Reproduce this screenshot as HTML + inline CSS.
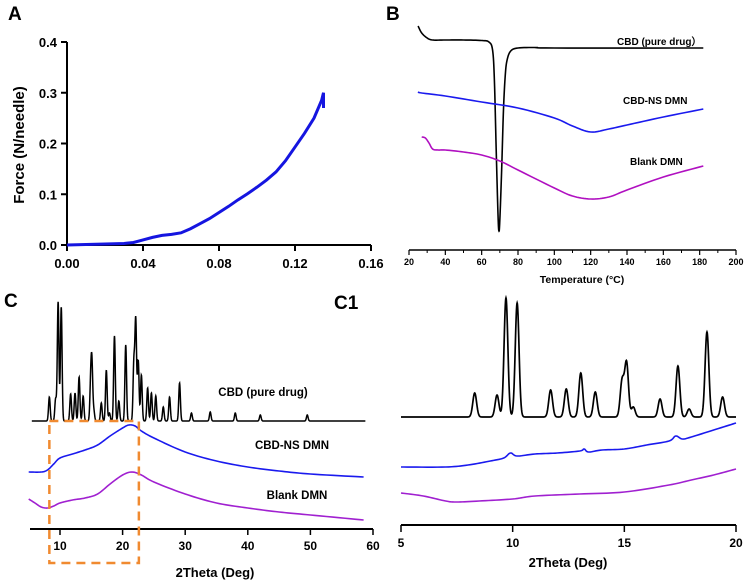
<!DOCTYPE html>
<html><head><meta charset="utf-8"><style>
body{margin:0;background:#fff}
svg{display:block;font-family:"Liberation Sans",Arial,sans-serif;font-weight:bold}
</style></head><body>
<svg id="fig" width="749" height="580" viewBox="0 0 749 580" xmlns="http://www.w3.org/2000/svg">
<text x="8" y="20" font-size="19">A</text>
<text x="386" y="20" font-size="19">B</text>
<text x="4" y="307" font-size="19">C</text>
<text x="334" y="309" font-size="19">C1</text>
<g id="gA"></g>
<g id="gB"></g>
<g id="gC"></g>
<g id="gC1"></g>
</svg>
<script>
// Panel A data
const dispA=[0,0.01,0.02,0.03,0.035,0.04,0.045,0.05,0.055,0.06,0.065,0.07,0.075,0.08,0.085,0.09,0.095,0.1,0.105,0.11,0.115,0.12,0.125,0.13,0.134,0.135,0.135];
const forceA=[0,0.001,0.002,0.003,0.005,0.01,0.015,0.019,0.021,0.024,0.032,0.042,0.052,0.064,0.076,0.089,0.101,0.114,0.128,0.144,0.166,0.193,0.22,0.25,0.285,0.30,0.27];
const xTicksA=["0.00","0.04","0.08","0.12","0.16"];
const yTicksA=["0.0","0.1","0.2","0.3","0.4"];
// Panel B data (temperature, heat flow a.u.)
const tBlack=[25,27,30,33,40,50,60,64,66,67,68,69,69.5,70,71,72,73,74,76,80,90,100,182];
const hBlack=[22.4,21.7,21.2,21,21,21,20.95,20.8,20,17,10,3.5,1.9,3,8,14,17.5,19,19.9,20.2,20.25,20.2,20.2];
const tBlue=[25,27,40,60,80,100,110,120,130,140,160,182];
const hBlue=[15.8,15.7,15.4,14.8,14.2,13.2,12.4,11.8,12.1,12.5,13.3,14.1];
const tMag=[27,29,31,33,36,40,50,60,70,80,100,110,120,130,140,160,182];
const hMag=[11.3,11.2,10.7,10.1,10,10,9.8,9.5,8.9,8,6.2,5.4,5.1,5.3,6,7.3,8.4];
const xTicksB=[20,40,60,80,100,120,140,160,180,200];
// XRD peaks (2theta, height)
const peakPos=[8.3,9.3,9.7,10.2,11.7,12.4,13.05,13.7,14.9,15.1,15.4,16.6,17.4,17.9,18.7,19.4,20.5,21.8,22.1,22.5,23,24,24.6,25.3,26.5,27.5,29.1,31,34,38,42,49.5];
const peakH=[24,22,119,114,27,28,44,25,36,54,10,18,51,8,85,20,76,58,100,60,46,33,28,25,14,24,38,8,9,8,6,6];
const baseBlack=108;
// amorphous curves (2theta, intensity)
const thBlueC=[5,7,8,9,10,12,14,16,18,20,21,22,23,25,30,35,40,45,50,58.5];
const iBlueC=[57,57,59,65,71,75,79,84,93,101,104,103,98,91,77,68,62,58,55,52];
const thMagC=[5,6,7,8,9,10,12,14,16,18,20,21.5,23,25,30,35,40,45,50,58.5];
const iMagC=[30,26,22,21,23,26,29,31,35,45,54,57,54,47,35,26,21,17,14,9];
const thBlueC1=[5,7,8,9,9.6,9.9,10.2,11,12,13,13.2,13.4,14,15,16,17,17.3,17.6,18,19,20];
const iBlueC1=[58,58,60,64,67,72,69,71,72,74,76,73,75,76,80,84,89,86,88,95,102];
const thMagC1=[5,6,7,7.5,8.5,10,11,13,15,17,18,19,20];
const iMagC1=[32,29,24,23,24,26,29,31,33,40,45,50,56];
const xTicksC=[10,20,30,40,50,60];
const xTicksC1=[5,10,15,20];

const NS="http://www.w3.org/2000/svg";
function mk(parent,tag,attrs){const e=document.createElementNS(NS,tag);for(const k in attrs)e.setAttribute(k,attrs[k]);parent.appendChild(e);return e;}
function lin(d0,d1,r0,r1){return v=>r0+(v-d0)/(d1-d0)*(r1-r0);}
function pathFrom(xs,ys,sx,sy){return xs.map((x,i)=>(i?'L':'M')+sx(x).toFixed(2)+' '+sy(ys[i]).toFixed(2)).join(' ');}
function smooth(xs,ys,n){const ox=[],oy=[];for(let i=0;i<xs.length-1;i++){const p0=i?i-1:i,p3=i+2<xs.length?i+2:i+1;for(let k=0;k<n;k++){const t=k/n,t2=t*t,t3=t2*t;const f=(a,b,c,d)=>0.5*(2*b+(-a+c)*t+(2*a-5*b+4*c-d)*t2+(-a+3*b-3*c+d)*t3);ox.push(f(xs[p0],xs[i],xs[i+1],xs[p3]));oy.push(f(ys[p0],ys[i],ys[i+1],ys[p3]));}}ox.push(xs[xs.length-1]);oy.push(ys[ys.length-1]);return [ox,oy];}

// Panel A
(function(){const g=document.getElementById('gA');
const sx=lin(0,0.16,67,371),sy=lin(0,0.4,245,42);
mk(g,'line',{x1:67,y1:42,x2:67,y2:245,stroke:'#000','stroke-width':2});
mk(g,'line',{x1:67,y1:245,x2:371,y2:245,stroke:'#000','stroke-width':2});
xTicksA.forEach(t=>{const x=sx(+t);const l=mk(g,'line',{x1:x,y1:245,x2:x,y2:251,stroke:'#000','stroke-width':2});
const tx=mk(g,'text',{x:x,y:268,'font-size':13,'text-anchor':'middle'});tx.textContent=t;});
yTicksA.forEach(t=>{const y=sy(+t);const l=mk(g,'line',{x1:61,y1:y,x2:67,y2:y,stroke:'#000','stroke-width':2});
const tx=mk(g,'text',{x:57,y:y+5,'font-size':13,'text-anchor':'end'});tx.textContent=t;});
const yt=mk(g,'text',{x:0,y:0,'font-size':15,'text-anchor':'middle',transform:'translate(24,145) rotate(-90)'});yt.textContent='Force (N/needle)';
const p=mk(g,'path',{d:pathFrom(dispA,forceA,sx,sy),fill:'none',stroke:'#1515e0','stroke-width':3});
})();

// Panel B
(function(){const g=document.getElementById('gB');
const sx=lin(20,200,409,736),sy=v=>250-v*10;
mk(g,'line',{x1:409,y1:250,x2:736,y2:250,stroke:'#000','stroke-width':1.5});
xTicksB.forEach(t=>{const x=sx(t);const l=mk(g,'line',{x1:x,y1:250,x2:x,y2:255,stroke:'#000','stroke-width':1.2});
const tx=mk(g,'text',{x:x,y:265,'font-size':9,'text-anchor':'middle'});tx.textContent=t;});
for(let t=30;t<200;t+=20){const m=mk(g,'line',{x1:sx(t),y1:250,x2:sx(t),y2:253,stroke:'#000','stroke-width':1});}
const xt=mk(g,'text',{x:582,y:283,'font-size':10.5,'text-anchor':'middle'});xt.textContent='Temperature (°C)';
const series=[[tBlack,hBlack,'#000','dsc-cbd-pure'],[tBlue,hBlue,'#1a1aee','dsc-cbd-ns-dmn'],[tMag,hMag,'#b010c0','dsc-blank-dmn']];
series.forEach(s=>{const [xs,ys]=smooth(s[0],s[1],8);const p=mk(g,'path',{d:pathFrom(xs,ys,sx,sy),fill:'none',stroke:s[2],'stroke-width':1.6});});
const labs=[['CBD (pure drug）',617,45,'label-cbd-pure'],['CBD-NS DMN',623,104,'label-cbd-ns-dmn'],['Blank DMN',630,165,'label-blank-dmn']];
labs.forEach(l=>{const t=mk(g,'text',{x:l[1],y:l[2],'font-size':10});t.textContent=l[0];});
})();

function blackCurve(x0,x1,step,sig){const xs=[],ys=[];for(let x=x0;x<=x1+1e-9;x+=step){let v=baseBlack;for(let i=0;i<peakPos.length;i++){const d=(x-peakPos[i])/sig;v+=peakH[i]*Math.exp(-0.5*d*d);}xs.push(x);ys.push(v);}return [xs,ys];}

// Panel C
(function(){const g=document.getElementById('gC');
const sx=lin(10,60,60,373),sy=v=>529-v;
mk(g,'line',{x1:30,y1:529,x2:373,y2:529,stroke:'#000','stroke-width':2});
xTicksC.forEach(t=>{const x=sx(t);const l=mk(g,'line',{x1:x,y1:529,x2:x,y2:535,stroke:'#000','stroke-width':1.5});
const tx=mk(g,'text',{x:x,y:550,'font-size':12,'text-anchor':'middle'});tx.textContent=t;});
const xt=mk(g,'text',{x:215,y:577,'font-size':13,'text-anchor':'middle'});xt.textContent='2Theta (Deg)';
const [bx,by]=blackCurve(5.5,58.8,0.03,0.13);
const p=mk(g,'path',{d:pathFrom(bx,by,sx,sy),fill:'none',stroke:'#000','stroke-width':1.5});
[[thBlueC,iBlueC,'#1a1aee','xrd-cbd-ns-dmn'],[thMagC,iMagC,'#a020d0','xrd-blank-dmn']].forEach(s=>{const [xs,ys]=smooth(s[0],s[1],10);const q=mk(g,'path',{d:pathFrom(xs,ys,sx,sy),fill:'none',stroke:s[2],'stroke-width':1.6});});
const labs=[['CBD (pure drug)',263,396,'label-cbd-pure'],['CBD-NS DMN',292,449,'label-cbd-ns-dmn'],['Blank DMN',297,499,'label-blank-dmn']];
labs.forEach(l=>{const t=mk(g,'text',{x:l[1],y:l[2],'font-size':11.5,'text-anchor':'middle'});t.textContent=l[0];});
const r=mk(g,'rect',{x:sx(8.3),y:421,width:sx(22.6)-sx(8.3),height:142,fill:'none',stroke:'#f08a30','stroke-width':2.5,'stroke-dasharray':'9 6'});
})();

// Panel C1
(function(){const g=document.getElementById('gC1');
const sx=lin(5,20,401,736),sy=v=>525-v;
mk(g,'line',{x1:401,y1:525,x2:736,y2:525,stroke:'#000','stroke-width':2});
xTicksC1.forEach(t=>{const x=sx(t);const l=mk(g,'line',{x1:x,y1:525,x2:x,y2:532,stroke:'#000','stroke-width':1.5});
const tx=mk(g,'text',{x:x,y:547,'font-size':12,'text-anchor':'middle'});tx.textContent=t;});
const xt=mk(g,'text',{x:568,y:567,'font-size':13,'text-anchor':'middle'});xt.textContent='2Theta (Deg)';
const [bx,by]=blackCurve(5,20,0.01,0.085);
const p=mk(g,'path',{d:pathFrom(bx,by,sx,sy),fill:'none',stroke:'#000','stroke-width':1.7});
[[thBlueC1,iBlueC1,'#1a1aee','xrd-cbd-ns-dmn-zoom'],[thMagC1,iMagC1,'#a020d0','xrd-blank-dmn-zoom']].forEach(s=>{const [xs,ys]=smooth(s[0],s[1],10);const q=mk(g,'path',{d:pathFrom(xs,ys,sx,sy),fill:'none',stroke:s[2],'stroke-width':1.6});});
})();
</script>
</body></html>
